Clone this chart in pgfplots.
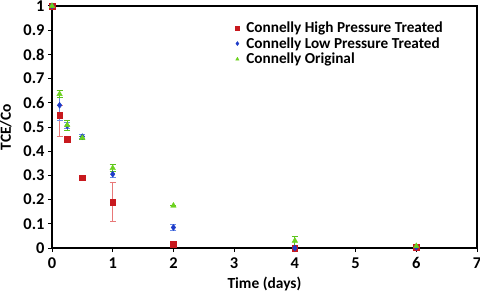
\documentclass[border=0pt]{standalone}
\usepackage{fontspec}
\setmainfont{Carlito}
\usepackage{pgfplots}
\pgfplotsset{compat=1.18}
\definecolor{cred}{HTML}{C8191E}
\definecolor{cblue}{HTML}{1E3CC8}
\definecolor{cgreen}{HTML}{6CD21E}
\definecolor{ered}{HTML}{E87878}
\definecolor{eblue}{HTML}{6A8CE8}
\definecolor{egreen}{HTML}{5CC21E}
\begin{document}
\begin{tikzpicture}[x=1bp,y=1bp]
\path[use as bounding box] (0,0) rectangle (480,293);
\begin{axis}[
  at={(52bp,45bp)}, anchor=south west,
  scale only axis, width=425bp, height=242bp,
  xmin=0, xmax=7, ymin=0, ymax=1,
  xtick={0,1,...,7}, ytick={0,0.1,...,1},
  tick pos=left, tick align=outside,
  major tick length=4bp,
  axis line style={line width=2.6bp},
  every tick/.style={black, line width=1bp},
  /pgf/number format/assume math mode=true,
  ticklabel style={font=\fontsize{16.5}{17}\selectfont\bfseries},
  xticklabel style={yshift=-2bp},
  xlabel={Time (days)}, ylabel={TCE/Co},
  label style={font=\fontsize{15.5}{16}\selectfont\bfseries},
  xlabel style={at={(rel axis cs:0.5,0)}, yshift=-26bp},
  ylabel style={yshift=5bp},
  clip=false, axis on top,
  legend style={draw=none, fill=none, at={(rel axis cs:0.424,0.952)}, anchor=north west,
    font=\fontsize{15.3}{16}\selectfont\bfseries, row sep=-0.5bp,
    legend cell align=left,
    /tikz/every odd column/.append style={column sep=5bp}},
  legend image post style={mark size=2bp},
  error bars/error mark options={rotate=90, mark size=3bp, line width=0.8bp},
]
\addplot[only marks, mark=square*, mark size=2.8bp, color=cred,
  error bars/.cd, y dir=both, y explicit,
  error bar style={color=ered, line width=1bp}]
  coordinates {
  (0,1) +- (0,0)
  (0.125,0.55) += (0,0.04) -= (0,0.09)
  (0.25,0.449) +- (0,0)
  (0.5,0.29) +- (0,0)
  (1,0.19) +- (0,0.08)
  (2,0.015) +- (0,0)
  (4,0.0) +- (0,0)
  (6,0.003) +- (0,0)
  };
\addlegendentry{Connelly High Pressure Treated}
\addplot[only marks, mark=diamond*, mark size=3bp, color=cblue,
  error bars/.cd, y dir=both, y explicit,
  error bar style={color=eblue, line width=1bp}]
  coordinates {
  (0,1) +- (0,0)
  (0.125,0.59) +- (0,0.062)
  (0.25,0.505) +- (0,0.012)
  (0.5,0.46) +- (0,0.008)
  (1,0.305) +- (0,0.012)
  (2,0.085) +- (0,0.012)
  (4,0.0) +- (0,0)
  (6,0.003) +- (0,0)
  };
\addlegendentry{Connelly Low Pressure Treated}
\addplot[only marks, mark=triangle*, mark size=3.2bp, color=cgreen,
  error bars/.cd, y dir=both, y explicit,
  error bar style={color=egreen, line width=1bp}]
  coordinates {
  (0,1) +- (0,0)
  (0.125,0.636) +- (0,0.015)
  (0.25,0.508) +- (0,0.02)
  (0.5,0.455) +- (0,0.005)
  (1,0.33) +- (0,0.015)
  (2,0.175) +- (0,0)
  (4,0.03) +- (0,0.02)
  (6,0.008) +- (0,0)
  };
\addlegendentry{Connelly Original}
\end{axis}
\end{tikzpicture}
\end{document}
